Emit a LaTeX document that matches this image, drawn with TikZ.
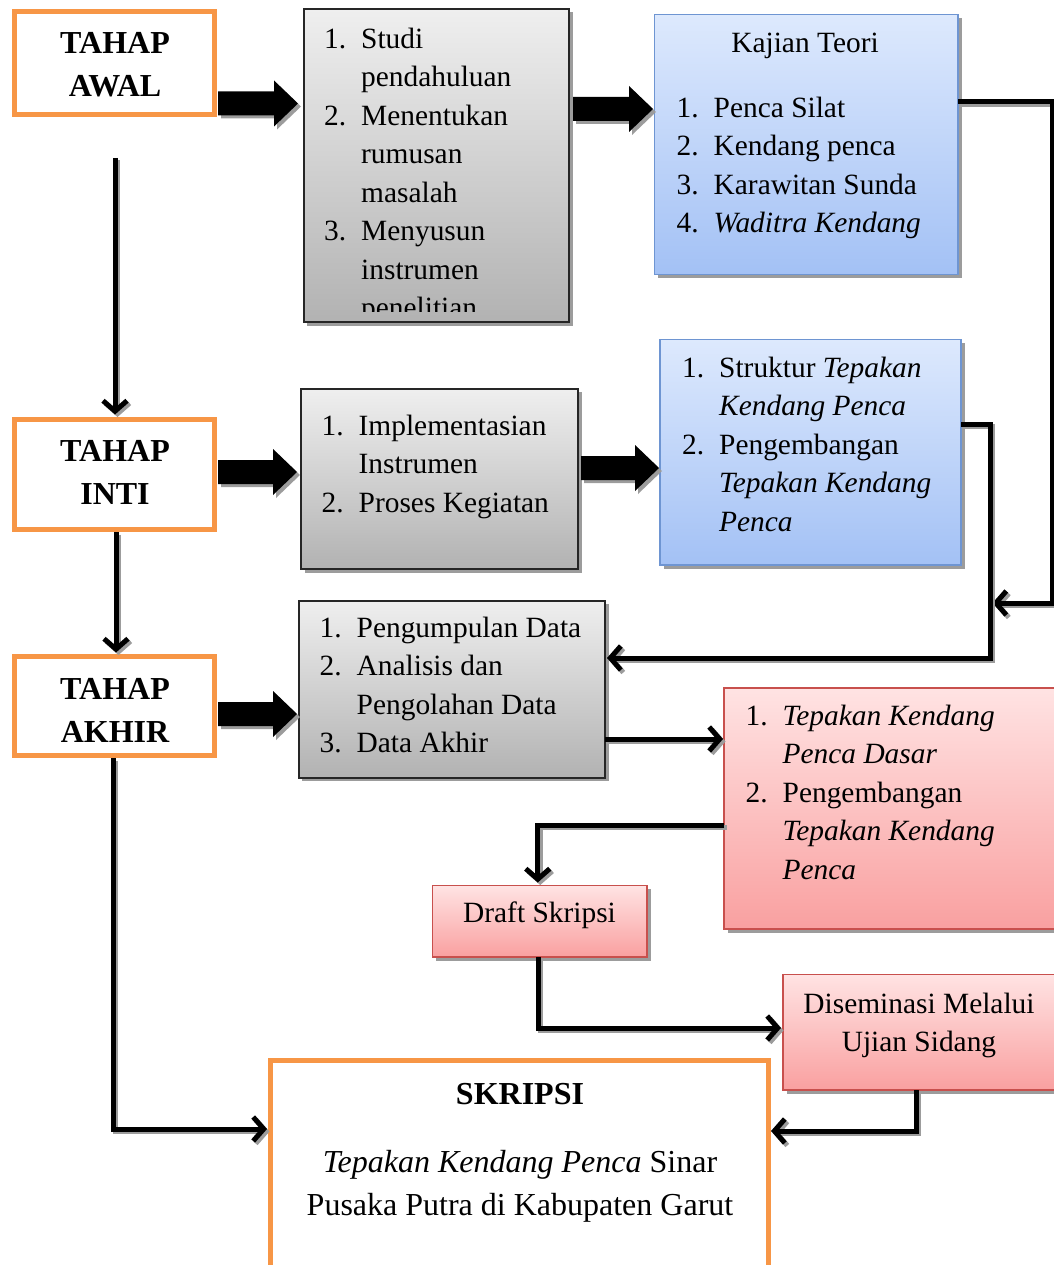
\documentclass[tikz,border=0pt]{standalone}
\usepackage{fontspec}
\setmainfont{Liberation Serif}
\usetikzlibrary{arrows.meta,shadows,calc}
\definecolor{orng}{HTML}{F79646}
\definecolor{grayT}{HTML}{EFEFEF}
\definecolor{grayB}{HTML}{B2B2B2}
\definecolor{blueT}{HTML}{DDE9FD}
\definecolor{blueB}{HTML}{A3C1F5}
\definecolor{blueD}{HTML}{6E95D2}
\definecolor{pinkT}{HTML}{FFE3E3}
\definecolor{pinkB}{HTML}{F9A0A0}
\definecolor{pinkD}{HTML}{C8504D}
\definecolor{shd}{HTML}{9C9C9C}
\newcommand\nm[1]{\makebox[37pt][l]{#1}}
\newcommand\shconn[1]{%
  \begin{scope}[transform canvas={shift={(2.5pt,-2.5pt)}}]\draw[conn, draw=shd] #1;\end{scope}%
  \draw[conn] #1;}
\tikzset{
  stage/.style={draw=orng, line width=5pt, fill=white, inner sep=0pt, outer sep=0pt, anchor=north west},
  stagetxt/.style={inner sep=0pt, anchor=base, font=\fontsize{32}{43}\selectfont\bfseries},
  boxshadow/.style={drop shadow={shadow xshift=3.5pt, shadow yshift=-3.5pt, fill=shd, opacity=1}},
  graybox/.style={draw=black!85, line width=2pt, top color=grayT, bottom color=grayB,
    inner sep=0pt, outer sep=0pt, anchor=north west, boxshadow},
  bluebox/.style={draw=blueD, line width=1.6pt, top color=blueT, bottom color=blueB,
    inner sep=0pt, outer sep=0pt, anchor=north west, boxshadow},
  pinkbox/.style={draw=pinkD, line width=1.6pt, top color=pinkT, bottom color=pinkB,
    inner sep=0pt, outer sep=0pt, anchor=north west, boxshadow},
  finalbox/.style={draw=orng, line width=5pt, fill=white, inner sep=0pt, outer sep=0pt, anchor=north west},
  txt/.style={inner sep=0pt, anchor=base west, font=\fontsize{29.4}{38.5}\selectfont},
  conn/.style={line width=5pt, -{Straight Barb[length=10.5pt,width=24pt]}},
  blk/.pic={
    \fill[shd, shift={(3,3)}] (0,-12) -- ({#1-24},-12) -- ({#1-24},-23) -- (#1,0) -- ({#1-24},23) -- ({#1-24},12) -- (0,12) -- cycle;
    \fill[black] (0,-12) -- ({#1-24},-12) -- ({#1-24},-23) -- (#1,0) -- ({#1-24},23) -- ({#1-24},12) -- (0,12) -- cycle;
  }
}
\begin{document}
\begin{tikzpicture}[x=1pt,y=-1pt]
\useasboundingbox (0,0) rectangle (1053,1265);

% stage boxes
\node[stage, minimum width=200pt, minimum height=103pt] (awal) at (14.5,11.5) {};
\node[stage, minimum width=200pt, minimum height=110pt] (inti) at (14.5,419.5) {};
\node[stage, minimum width=200pt, minimum height=99pt] (akhir) at (14.5,656.5) {};
\node[stagetxt] (awaltxt) at (115,54) {\begin{tabular}[t]{@{}c@{}}TAHAP\\ AWAL\end{tabular}};
\node[stagetxt] (intitxt) at (115,461.5) {\begin{tabular}[t]{@{}c@{}}TAHAP\\ INTI\end{tabular}};
\node[stagetxt] (akhirtxt) at (115,699) {\begin{tabular}[t]{@{}c@{}}TAHAP\\ AKHIR\end{tabular}};

% content boxes
\node[graybox, minimum width=265.5pt, minimum height=313pt] (g1) at (303.5,9) {};
\node[bluebox, minimum width=303.5pt, minimum height=260pt] (b1) at (654.5,14.5) {};
\node[graybox, minimum width=277pt, minimum height=180.5pt] (g2) at (301,388.5) {};
\node[bluebox, minimum width=301pt, minimum height=225.5pt] (b2) at (660,339.5) {};
\node[graybox, minimum width=306.5pt, minimum height=177pt] (g3) at (298.5,600.5) {};
\node[pinkbox, minimum width=346pt, minimum height=241pt] (p1) at (724,688) {};
\node[pinkbox, minimum width=214.5pt, minimum height=71.5pt] (draft) at (432.5,885.5) {};
\node[pinkbox, minimum width=287pt, minimum height=115.5pt] (dis) at (783,974.5) {};
\node[finalbox, minimum width=498.5pt, minimum height=240pt] (skripsi) at (270,1060.5) {};

% texts
\begin{scope}
\clip (303.5,9) rectangle (569,311);
\node[txt] (g1txt) at (324,48.5) {\begin{tabular}[t]{@{}l@{}}
\nm{1.}Studi\\ \nm{}pendahuluan\\ \nm{2.}Menentukan\\ \nm{}rumusan\\ \nm{}masalah\\
\nm{3.}Menyusun\\ \nm{}instrumen\\ \nm{}penelitian\end{tabular}};
\end{scope}
\node[txt, anchor=base] (b1title) at (805,53) {Kajian Teori};
\node[txt] (b1txt) at (676.5,117.5) {\begin{tabular}[t]{@{}l@{}}
\nm{1.}Penca Silat\\ \nm{2.}Kendang penca\\ \nm{3.}Karawitan Sunda\\ \nm{4.}\textit{Waditra Kendang}\end{tabular}};
\node[txt] (g2txt) at (321.5,435) {\begin{tabular}[t]{@{}l@{}}
\nm{1.}Implementasian\\ \nm{}Instrumen\\ \nm{2.}Proses Kegiatan\end{tabular}};
\node[txt] (b2txt) at (682,377) {\begin{tabular}[t]{@{}l@{}}
\nm{1.}Struktur \textit{Tepakan}\\ \nm{}\textit{Kendang Penca}\\ \nm{2.}Pengembangan\\
\nm{}\textit{Tepakan Kendang}\\ \nm{}\textit{Penca}\end{tabular}};
\node[txt] (g3txt) at (319.5,637) {\begin{tabular}[t]{@{}l@{}}
\nm{1.}Pengumpulan Data\\ \nm{2.}Analisis dan\\ \nm{}Pengolahan Data\\ \nm{3.}Data Akhir\end{tabular}};
\node[txt] (p1txt) at (745.5,725) {\begin{tabular}[t]{@{}l@{}}
\nm{1.}\textit{Tepakan Kendang}\\ \nm{}\textit{Penca Dasar}\\ \nm{2.}Pengembangan\\
\nm{}\textit{Tepakan Kendang}\\ \nm{}\textit{Penca}\end{tabular}};
\node[txt, anchor=base] (drafttxt) at (539.5,922) {Draft Skripsi};
\node[txt, anchor=base] (distxt) at (919,1013) {\begin{tabular}[t]{@{}c@{}}Diseminasi Melalui\\ Ujian Sidang\end{tabular}};
\node[inner sep=0pt, anchor=base, font=\fontsize{32}{43}\selectfont\bfseries] (sktitle) at (520,1104) {SKRIPSI};
\node[inner sep=0pt, anchor=base, font=\fontsize{32}{43}\selectfont] (sktxt) at (520,1172) {\begin{tabular}[t]{@{}c@{}}\textit{Tepakan Kendang Penca} Sinar\\ Pusaka Putra di Kabupaten Garut\end{tabular}};

% block arrows
\pic at ($(awal.east |- 0,103.5)+(3.5,0)$) {blk=80};
\pic at ($(g1.east |- 0,109)+(4,0)$) {blk=80};
\pic at ($(inti.east |- 0,472)+(3.5,0)$) {blk=79};
\pic at ($(g2.east |- 0,468)+(3,0)$) {blk=78};
\pic at ($(akhir.east |- 0,714)+(3.5,0)$) {blk=79};

% connectors
\coordinate (j1) at (992.5,603);
\shconn{($(awal.south)+(0.5,43.5)$) -- ($(inti.north)+(0.5,-5)$)}
\shconn{($(inti.south)+(1.5,2.5)$) -- ($(akhir.north)+(1.5,-4)$)}
\shconn{($(akhir.south)+(-1.5,2.5)$) |- ($(skripsi.west |- 0,1129)+(-3,0)$)}
\shconn{(b1.east |- 0,102) -- (1052.5,102) |- (j1)}
\shconn{(b2.east |- 0,424) -- (990,424) -- (990,658) -- ($(g3.east |- 0,658)+(2,0)$)}
\shconn{(g3.east |- 0,739) -- ($(p1.west |- 0,739)+(-1,0)$)}
\shconn{(p1.west |- 0,825) -| ($(draft.north)+(-2,-3)$)}
\shconn{($(draft.south)+(-1.5,0)$) |- ($(dis.west |- 0,1028)+(-2,0)$)}
\shconn{(dis.south -| 916,0) |- ($(skripsi.east |- 0,1131)+(2.5,0)$)}
\end{tikzpicture}
\end{document}
